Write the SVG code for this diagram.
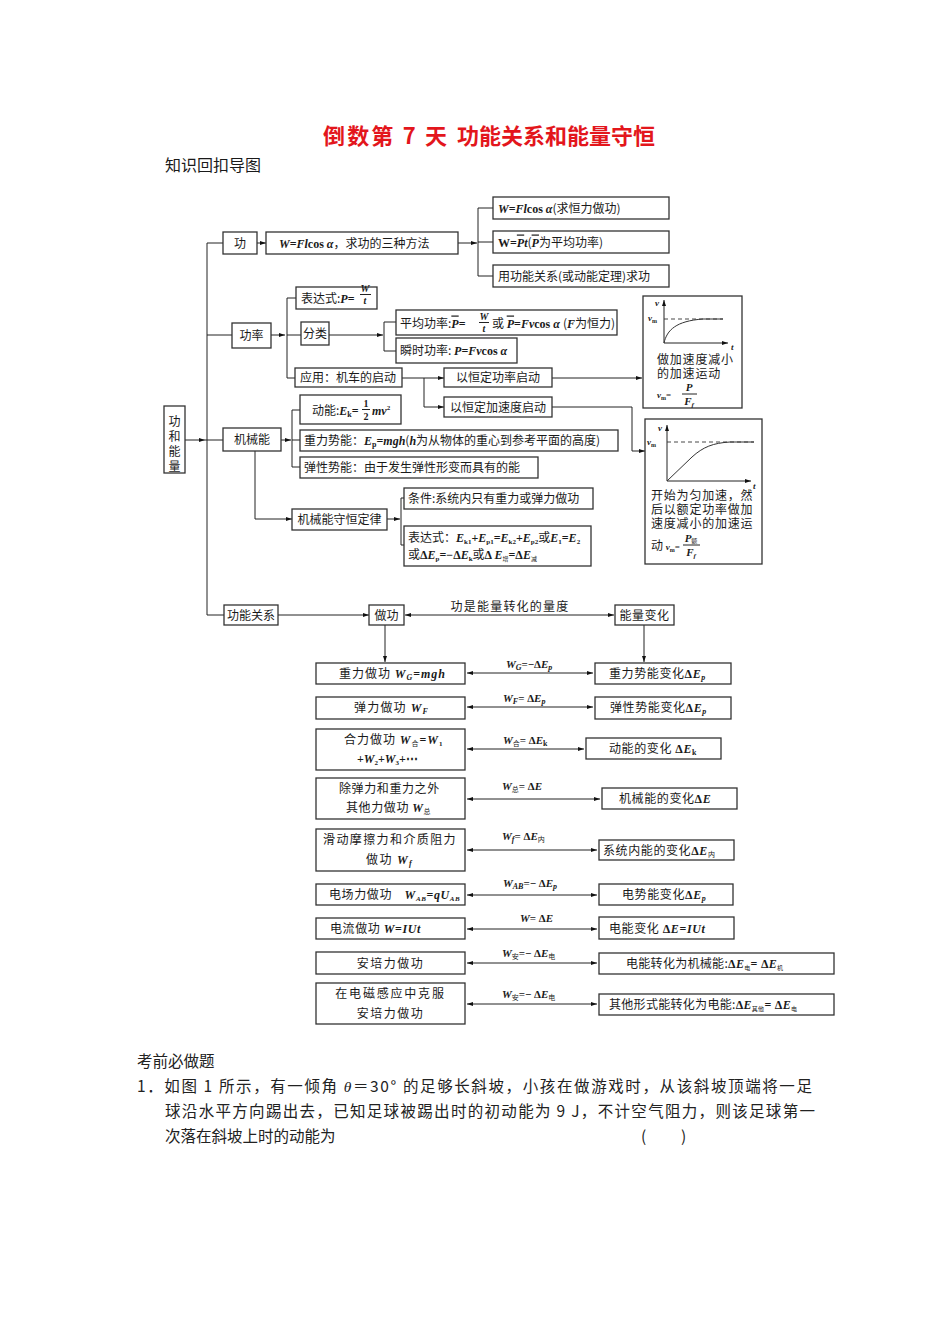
<svg xmlns="http://www.w3.org/2000/svg" width="950" height="1344" viewBox="0 0 950 1344">
<defs>
<style>
svg{font-family:"Noto Sans CJK SC","Noto Sans CJK JP",sans-serif;font-size:12px}
text{fill:#1a1a1a}
.v{font-family:"Liberation Serif",serif;font-style:italic;font-weight:bold}
.r{font-family:"Liberation Serif",serif;font-weight:bold}
.bx{fill:#fff;stroke:#333;stroke-width:1.3}
.ln{fill:none;stroke:#222;stroke-width:1}
.ar{fill:none;stroke:#222;stroke-width:1;marker-end:url(#ah)}
.da{fill:none;stroke:#222;stroke-width:1;marker-end:url(#ah);marker-start:url(#ah)}
.c{text-anchor:middle}
.p{font-size:15.5px;fill:#222}
.g{font-size:12px}
.dash{fill:none;stroke:#333;stroke-width:0.9;stroke-dasharray:4 3}
.cv{fill:none;stroke:#333;stroke-width:1}
.ttl{font-size:22px;font-weight:bold;fill:#e3161c}
</style>
<marker id="ah" viewBox="0 0 6 6" refX="6" refY="3" markerWidth="6" markerHeight="6" markerUnits="userSpaceOnUse" orient="auto-start-reverse"><path d="M0,1 L6,3 L0,5 z" fill="#111"/></marker>
</defs>
<rect x="0" y="0" width="950" height="1344" fill="#fff"/>

<g id="title">
<text x="323" y="144" class="ttl" textLength="124" lengthAdjust="spacing">倒数第 7 天</text>
<text x="457" y="144" class="ttl">功能关系和能量守恒</text>
<text x="165" y="171" style="font-size:16px">知识回扣导图</text>
</g>

<g id="connectors">
<path class="ln" d="M207,243 V615 M207,243 H223 M207,335 H232 M207,615 H224"/>
<path class="ar" d="M257,243 H266"/>
<path class="ar" d="M458,243 H477"/>
<path class="ln" d="M493,208 H478 V276 H493 M478,242 H493"/>
<path class="ar" d="M271,335 H285"/>
<path class="ln" d="M296,298 H287 V378 H295 M287,335 H301"/>
<path class="ar" d="M329,335 H383"/>
<path class="ln" d="M396,322 H384 V351 H396"/>
<path class="ln" d="M402,378 H424 V407"/>
<path class="ar" d="M424,378 H444"/>
<path class="ar" d="M424,407 H444"/>
<path class="ar" d="M552,378 H642"/>
<path class="ar" d="M552,407 H632 V451 H645"/>
<path class="ar" d="M185,440 H205"/>
<path class="ln" d="M205,440 H223"/>
<path class="ar" d="M281,440 H291"/>
<path class="ln" d="M300,410 H292 V467 H300 M292,440 H300"/>
<path class="ln" d="M255,451 V519"/>
<path class="ar" d="M255,519 H292"/>
<path class="ar" d="M387,519 H400"/>
<path class="ln" d="M404,498 H401 V545 H404"/>
<path class="ar" d="M278,615 H369"/>
<path class="da" d="M405,615 H614"/>
<path class="ar" d="M385,625 V662"/>
<path class="ar" d="M644,625 V662"/>
<path class="da" d="M467,673 H593"/>
<path class="da" d="M467,707 H593"/>
<path class="da" d="M467,749 H584"/>
<path class="da" d="M467,799 H600"/>
<path class="da" d="M467,850 H597"/>
<path class="da" d="M467,895 H597"/>
<path class="da" d="M467,929 H597"/>
<path class="da" d="M467,963 H597"/>
<path class="da" d="M467,1004 H597"/>
<text x="510" y="611" class="c" letter-spacing="1.2">功是能量转化的量度</text>
<text x="506" y="668" style="font-size:11px"><tspan class="v">W</tspan><tspan class="v" font-size="8" dy="2">G</tspan><tspan class="r" dy="-2">=−Δ</tspan><tspan class="v">E</tspan><tspan class="v" font-size="8" dy="2">p</tspan></text>
<text x="503" y="702" style="font-size:11px"><tspan class="v">W</tspan><tspan class="v" font-size="8" dy="2">F</tspan><tspan class="r" dy="-2">= Δ</tspan><tspan class="v">E</tspan><tspan class="v" font-size="8" dy="2">p</tspan></text>
<text x="503" y="744" style="font-size:11px"><tspan class="v">W</tspan><tspan font-size="7" dy="2">合</tspan><tspan class="r" dy="-2">= Δ</tspan><tspan class="v">E</tspan><tspan class="r" font-size="8" dy="2">k</tspan></text>
<text x="502" y="790" style="font-size:11px"><tspan class="v">W</tspan><tspan font-size="7" dy="2">总</tspan><tspan class="r" dy="-2">= Δ</tspan><tspan class="v">E</tspan></text>
<text x="502" y="840" style="font-size:11px"><tspan class="v">W</tspan><tspan class="v" font-size="8" dy="2">f</tspan><tspan class="r" dy="-2">= Δ</tspan><tspan class="v">E</tspan><tspan font-size="7" dy="2">内</tspan></text>
<text x="503" y="887" style="font-size:11px"><tspan class="v">W</tspan><tspan class="v" font-size="8" dy="2">AB</tspan><tspan class="r" dy="-2">=− Δ</tspan><tspan class="v">E</tspan><tspan class="v" font-size="8" dy="2">p</tspan></text>
<text x="520" y="922" style="font-size:11px"><tspan class="v">W</tspan><tspan class="r">= Δ</tspan><tspan class="v">E</tspan></text>
<text x="502" y="957" style="font-size:11px"><tspan class="v">W</tspan><tspan font-size="7" dy="2">安</tspan><tspan class="r" dy="-2">=− Δ</tspan><tspan class="v">E</tspan><tspan font-size="7" dy="2">电</tspan></text>
<text x="502" y="998" style="font-size:11px"><tspan class="v">W</tspan><tspan font-size="7" dy="2">安</tspan><tspan class="r" dy="-2">=− Δ</tspan><tspan class="v">E</tspan><tspan font-size="7" dy="2">电</tspan></text>
</g>

<g id="n-root"><rect class="bx" x="164" y="406" width="21" height="67"/>
<text x="174.5" y="426" class="c">功</text><text x="174.5" y="441" class="c">和</text><text x="174.5" y="456" class="c">能</text><text x="174.5" y="471" class="c">量</text></g>

<g id="n-gong"><rect class="bx" x="223" y="232" width="34" height="22"/><text x="240" y="247.5" class="c">功</text></g>
<g id="n-gong-def"><rect class="bx" x="266" y="232" width="192" height="22"/>
<text x="279" y="247.5"><tspan class="v">W</tspan><tspan class="r">=</tspan><tspan class="v">Fl</tspan><tspan class="r">cos  </tspan><tspan class="v">α</tspan>，求功的三种方法</text></g>
<g id="n-gong-1"><rect class="bx" x="493" y="197" width="176" height="22"/>
<text x="498" y="212.5"><tspan class="v">W</tspan><tspan class="r">=</tspan><tspan class="v">Fl</tspan><tspan class="r">cos  </tspan><tspan class="v">α</tspan>(求恒力做功)</text></g>
<g id="n-gong-2"><rect class="bx" x="493" y="231" width="176" height="22"/>
<text x="498" y="246.5"><tspan class="r">W=</tspan><tspan class="v" style="text-decoration:overline">P</tspan><tspan class="v">t</tspan>(<tspan class="v" style="text-decoration:overline">P</tspan>为平均功率)</text></g>
<g id="n-gong-3"><rect class="bx" x="493" y="265" width="176" height="22"/>
<text x="498" y="280.5">用功能关系(或动能定理)求功</text></g>

<g id="n-power"><rect class="bx" x="232" y="323" width="39" height="25"/><text x="251.5" y="340" class="c">功率</text></g>
<g id="n-power-expr"><rect class="bx" x="296" y="287" width="81" height="22"/>
<text x="301" y="302.5">表达式:<tspan class="v">P</tspan><tspan class="r">=</tspan></text>
<text x="365" y="292" class="c" style="font-size:10px"><tspan class="v">W</tspan></text>
<path class="ln" d="M360,294.5 H371"/>
<text x="365" y="304" class="c" style="font-size:10px"><tspan class="v">t</tspan></text></g>
<g id="n-power-class"><rect class="bx" x="301" y="322" width="28" height="23"/><text x="315" y="338" class="c">分类</text></g>
<g id="n-power-avg"><rect class="bx" x="396" y="310" width="221" height="25"/>
<text x="400" y="327.5">平均功率:<tspan class="v" style="text-decoration:overline">P</tspan><tspan class="r">=</tspan></text>
<text x="484" y="320" class="c" style="font-size:10px"><tspan class="v">W</tspan></text>
<path class="ln" d="M479,322.5 H489"/>
<text x="484" y="332" class="c" style="font-size:10px"><tspan class="v">t</tspan></text>
<text x="492" y="327.5"> 或 <tspan class="v" style="text-decoration:overline">P</tspan><tspan class="r">=</tspan><tspan class="v">Fv</tspan><tspan class="r">cos </tspan><tspan class="v">α </tspan>(<tspan class="v">F</tspan>为恒力)</text></g>
<g id="n-power-inst"><rect class="bx" x="396" y="338" width="121" height="25"/>
<text x="400" y="355">瞬时功率: <tspan class="v">P</tspan><tspan class="r">=</tspan><tspan class="v">Fv</tspan><tspan class="r">cos </tspan><tspan class="v">α</tspan></text></g>
<g id="n-power-app"><rect class="bx" x="295" y="368" width="107" height="19"/><text x="300" y="382">应用：机车的启动</text></g>
<g id="n-start-p"><rect class="bx" x="444" y="368" width="108" height="19"/><text x="498" y="382" class="c">以恒定功率启动</text></g>
<g id="n-start-a"><rect class="bx" x="444" y="397" width="108" height="20"/><text x="498" y="411.5" class="c">以恒定加速度启动</text></g>

<g id="n-graph1"><rect class="bx" x="643" y="296" width="99" height="112"/>
<path class="ar" d="M664,343 V300"/>
<path class="ar" d="M664,343 H728"/>
<path class="dash" d="M664,319 H723"/>
<path class="cv" d="M664,343 C667,330 676,321 703,319 L723,319"/>
<text x="655" y="306" style="font-size:9px"><tspan class="v">v</tspan></text>
<text x="648" y="321" style="font-size:9px"><tspan class="v">v</tspan><tspan class="r" font-size="6" dy="1.5">m</tspan></text>
<text x="731" y="350" style="font-size:9px"><tspan class="v">t</tspan></text>
<text x="657" y="364" class="g" letter-spacing="0.8">做加速度减小</text>
<text x="657" y="378" class="g" letter-spacing="0.8">的加速运动</text>
<text x="657" y="398" style="font-size:9px"><tspan class="v">v</tspan><tspan class="r" font-size="6" dy="1.5">m</tspan><tspan class="r" dy="-1.5">=</tspan></text>
<text x="689" y="391" class="c" style="font-size:11px"><tspan class="v">P</tspan></text>
<path class="ln" d="M682,394 H697"/>
<text x="689" y="405" class="c" style="font-size:11px"><tspan class="v">F</tspan><tspan class="v" font-size="7" dy="2">f</tspan></text></g>

<g id="n-graph2"><rect class="bx" x="645" y="419" width="117" height="145"/>
<path class="ar" d="M667,481 V425"/>
<path class="ar" d="M667,481 H751"/>
<path class="dash" d="M667,442 H754"/>
<path class="cv" d="M667,481 L692,457 C703,447 713,443 730,442 L754,442"/>
<text x="658" y="431" style="font-size:9px"><tspan class="v">v</tspan></text>
<text x="647" y="445" style="font-size:9px"><tspan class="v">v</tspan><tspan class="r" font-size="6" dy="1.5">m</tspan></text>
<text x="753" y="489" style="font-size:9px"><tspan class="v">t</tspan></text>
<text x="651" y="500" class="g" letter-spacing="0.8">开始为匀加速，然</text>
<text x="651" y="514" class="g" letter-spacing="0.8">后以额定功率做加</text>
<text x="651" y="528" class="g" letter-spacing="0.8">速度减小的加速运</text>
<text x="651" y="550" class="g">动 <tspan class="v" font-size="9">v</tspan><tspan class="r" font-size="6" dy="1.5">m</tspan><tspan class="r" font-size="9" dy="-1.5">=</tspan></text>
<text x="691" y="542" class="c" style="font-size:11px"><tspan class="v">P</tspan><tspan font-size="6" dy="1">额</tspan></text>
<path class="ln" d="M683,545 H700"/>
<text x="691" y="556" class="c" style="font-size:11px"><tspan class="v">F</tspan><tspan class="v" font-size="7" dy="2">f</tspan></text></g>

<g id="n-mech"><rect class="bx" x="223" y="428" width="58" height="23"/><text x="252" y="444" class="c">机械能</text></g>
<g id="n-ek"><rect class="bx" x="300" y="395" width="101" height="29"/>
<text x="312" y="414.5">动能:<tspan class="v">E</tspan><tspan class="r" font-size="8" dy="2">k</tspan><tspan class="r" dy="-2">=</tspan></text>
<text x="366" y="407" class="c" style="font-size:10px"><tspan class="r">1</tspan></text>
<path class="ln" d="M362,409.5 H370"/>
<text x="366" y="419.5" class="c" style="font-size:10px"><tspan class="r">2</tspan></text>
<text x="372" y="414.5"><tspan class="v">mv</tspan><tspan class="r" font-size="7" dy="-5">2</tspan></text></g>
<g id="n-ep"><rect class="bx" x="300" y="430" width="318" height="21"/>
<text x="304" y="444.5">重力势能：<tspan class="v">E</tspan><tspan class="r" font-size="8" dy="2">p</tspan><tspan class="r" dy="-2">=</tspan><tspan class="v">mgh</tspan>(<tspan class="v">h</tspan>为从物体的重心到参考平面的高度)</text></g>
<g id="n-eel"><rect class="bx" x="300" y="457" width="238" height="21"/>
<text x="304" y="471.5">弹性势能：由于发生弹性形变而具有的能</text></g>
<g id="n-cons"><rect class="bx" x="292" y="509" width="95" height="21"/><text x="339.5" y="523.5" class="c">机械能守恒定律</text></g>
<g id="n-cond"><rect class="bx" x="404" y="488" width="189" height="21"/><text x="408" y="502.5">条件:系统内只有重力或弹力做功</text></g>
<g id="n-cexpr"><rect class="bx" x="404" y="526" width="187" height="40"/>
<text x="408" y="542">表达式：<tspan class="v">E</tspan><tspan class="r" font-size="7" dy="2">k1</tspan><tspan class="r" dy="-2">+</tspan><tspan class="v">E</tspan><tspan class="r" font-size="7" dy="2">p1</tspan><tspan class="r" dy="-2">=</tspan><tspan class="v">E</tspan><tspan class="r" font-size="7" dy="2">k2</tspan><tspan class="r" dy="-2">+</tspan><tspan class="v">E</tspan><tspan class="r" font-size="7" dy="2">p2</tspan><tspan dy="-2">或</tspan><tspan class="v">E</tspan><tspan class="r" font-size="7" dy="2">1</tspan><tspan class="r" dy="-2">=</tspan><tspan class="v">E</tspan><tspan class="r" font-size="7" dy="2">2</tspan></text>
<text x="408" y="559">或<tspan class="r">Δ</tspan><tspan class="v">E</tspan><tspan class="r" font-size="7" dy="2">p</tspan><tspan class="r" dy="-2">=−Δ</tspan><tspan class="v">E</tspan><tspan class="r" font-size="7" dy="2">k</tspan><tspan dy="-2">或</tspan><tspan class="r">Δ </tspan><tspan class="v">E</tspan><tspan font-size="6" dy="2">增</tspan><tspan class="r" dy="-2">=Δ</tspan><tspan class="v">E</tspan><tspan font-size="6" dy="2">减</tspan></text></g>

<g id="n-rel"><rect class="bx" x="224" y="605" width="54" height="20"/><text x="251" y="619.5" class="c">功能关系</text></g>
<g id="n-work"><rect class="bx" x="369" y="605" width="35" height="20"/><text x="386.5" y="619.5" class="c">做功</text></g>
<g id="n-echange"><rect class="bx" x="615" y="605" width="59" height="20"/><text x="644.5" y="619.5" class="c" letter-spacing="0.5">能量变化</text></g>

<g id="n-l1"><rect class="bx" x="316" y="663" width="149" height="21"/>
<text x="339" y="677.5" letter-spacing="1">重力做功 <tspan class="v">W</tspan><tspan class="v" font-size="8" dy="2">G</tspan><tspan class="r" dy="-2">=</tspan><tspan class="v">mgh</tspan></text></g>
<g id="n-r1"><rect class="bx" x="595" y="663" width="136" height="21"/>
<text x="609" y="677.5" letter-spacing="0.6">重力势能变化<tspan class="r">Δ</tspan><tspan class="v">E</tspan><tspan class="v" font-size="8" dy="2">p</tspan></text></g>

<g id="n-l2"><rect class="bx" x="316" y="697" width="149" height="22"/>
<text x="354" y="712" letter-spacing="1.2">弹力做功 <tspan class="v">W</tspan><tspan class="v" font-size="8" dy="2">F</tspan></text></g>
<g id="n-r2"><rect class="bx" x="595" y="697" width="136" height="22"/>
<text x="610" y="712" letter-spacing="0.6">弹性势能变化<tspan class="r">Δ</tspan><tspan class="v">E</tspan><tspan class="v" font-size="8" dy="2">p</tspan></text></g>

<g id="n-l3"><rect class="bx" x="316" y="729" width="149" height="41"/>
<text x="344" y="744" letter-spacing="1">合力做功 <tspan class="v">W</tspan><tspan font-size="7" dy="2">合</tspan><tspan class="r" dy="-2">=</tspan><tspan class="v">W</tspan><tspan class="r" font-size="7" dy="2">1</tspan></text>
<text x="357" y="763"><tspan class="r">+</tspan><tspan class="v">W</tspan><tspan class="r" font-size="7" dy="2">2</tspan><tspan class="r" dy="-2">+</tspan><tspan class="v">W</tspan><tspan class="r" font-size="7" dy="2">3</tspan><tspan class="r" dy="-2">+⋯</tspan></text></g>
<g id="n-r3"><rect class="bx" x="586" y="738" width="135" height="21"/>
<text x="609" y="753" letter-spacing="0.6">动能的变化 <tspan class="r">Δ</tspan><tspan class="v">E</tspan><tspan class="r" font-size="8" dy="2">k</tspan></text></g>

<g id="n-l4"><rect class="bx" x="316" y="778" width="149" height="41"/>
<text x="339" y="793" letter-spacing="0.6">除弹力和重力之外</text>
<text x="346" y="812" letter-spacing="0.6">其他力做功 <tspan class="v">W</tspan><tspan font-size="7" dy="2">总</tspan></text></g>
<g id="n-r4"><rect class="bx" x="602" y="788" width="135" height="21"/>
<text x="619" y="803" letter-spacing="0.6">机械能的变化<tspan class="r">Δ</tspan><tspan class="v">E</tspan></text></g>

<g id="n-l5"><rect class="bx" x="316" y="829" width="149" height="42"/>
<text x="323" y="844" letter-spacing="1.4">滑动摩擦力和介质阻力</text>
<text x="366" y="864" letter-spacing="1.4">做功 <tspan class="v">W</tspan><tspan class="v" font-size="8" dy="2">f</tspan></text></g>
<g id="n-r5"><rect class="bx" x="599" y="840" width="135" height="20"/>
<text x="603" y="854.5" letter-spacing="0.6">系统内能的变化<tspan class="r">Δ</tspan><tspan class="v">E</tspan><tspan font-size="7" dy="2">内</tspan></text></g>

<g id="n-l6"><rect class="bx" x="316" y="884" width="149" height="21"/>
<text x="329" y="899" letter-spacing="0.6">电场力做功　<tspan class="v">W</tspan><tspan class="v" font-size="7" dy="2">AB</tspan><tspan class="r" dy="-2">=</tspan><tspan class="v">qU</tspan><tspan class="v" font-size="7" dy="2">AB</tspan></text></g>
<g id="n-r6"><rect class="bx" x="599" y="884" width="134" height="21"/>
<text x="622" y="899" letter-spacing="0.6">电势能变化<tspan class="r">Δ</tspan><tspan class="v">E</tspan><tspan class="v" font-size="8" dy="2">p</tspan></text></g>

<g id="n-l7"><rect class="bx" x="316" y="918" width="149" height="21"/>
<text x="330" y="933" letter-spacing="0.6">电流做功 <tspan class="v">W</tspan><tspan class="r">=</tspan><tspan class="v">IUt</tspan></text></g>
<g id="n-r7"><rect class="bx" x="599" y="917" width="135" height="22"/>
<text x="609" y="932.5" letter-spacing="0.6">电能变化 <tspan class="r">Δ</tspan><tspan class="v">E</tspan><tspan class="r">=</tspan><tspan class="v">IUt</tspan></text></g>

<g id="n-l8"><rect class="bx" x="316" y="952" width="149" height="22"/>
<text x="390.5" y="967.5" class="c" letter-spacing="1.5">安培力做功</text></g>
<g id="n-r8"><rect class="bx" x="599" y="953" width="235" height="21"/>
<text x="626" y="968" letter-spacing="0.3">电能转化为机械能:<tspan class="r">Δ</tspan><tspan class="v">E</tspan><tspan font-size="6" dy="2">电</tspan><tspan class="r" dy="-2">= Δ</tspan><tspan class="v">E</tspan><tspan font-size="6" dy="2">机</tspan></text></g>

<g id="n-l9"><rect class="bx" x="316" y="983" width="149" height="41"/>
<text x="390.5" y="998" class="c" letter-spacing="1.8">在电磁感应中克服</text>
<text x="390.5" y="1018" class="c" letter-spacing="1.5">安培力做功</text></g>
<g id="n-r9"><rect class="bx" x="599" y="994" width="235" height="21"/>
<text x="609" y="1009" letter-spacing="0.3">其他形式能转化为电能:<tspan class="r">Δ</tspan><tspan class="v">E</tspan><tspan font-size="6" dy="2">其他</tspan><tspan class="r" dy="-2">= Δ</tspan><tspan class="v">E</tspan><tspan font-size="6" dy="2">电</tspan></text></g>

<g id="question">
<text x="137" y="1067" class="p">考前必做题</text>
<text x="137" y="1092" class="p" textLength="675" lengthAdjust="spacing">1．如图 1 所示，有一倾角 <tspan font-family="Liberation Serif" font-style="italic">θ</tspan>＝30° 的足够长斜坡，小孩在做游戏时，从该斜坡顶端将一足</text>
<text x="165" y="1117" class="p" textLength="650" lengthAdjust="spacing">球沿水平方向踢出去，已知足球被踢出时的初动能为 9 J，不计空气阻力，则该足球第一</text>
<text x="165" y="1142" class="p">次落在斜坡上时的动能为</text>
<text x="641" y="1142" class="p">(</text>
<text x="681" y="1142" class="p">)</text>
</g>
</svg>
